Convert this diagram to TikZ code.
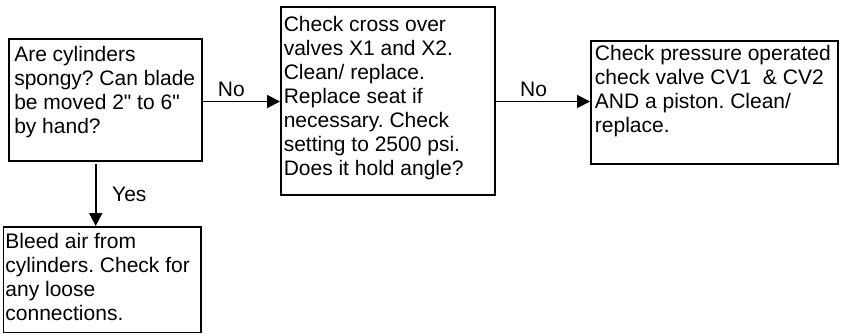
\documentclass[tikz,border=0pt]{standalone}
\usepackage{fontspec}
\setmainfont{Liberation Sans}
\usetikzlibrary{arrows.meta}
\newcommand\diagfs{\fontsize{21}{24}\selectfont}
\newcommand\boxtext[3]{\parbox[t]{#1}{\raggedright\leftskip=#2\relax #3}}
\newcommand\dq{\textquotedbl}
\frenchspacing
\tikzset{
  flowbox/.style={draw, line width=1.9pt, inner sep=0pt, anchor=north west, font=\diagfs},
  lbl/.style={inner sep=0pt, anchor=base west, font=\diagfs},
  arr/.style={line width=1.9pt, -{Triangle[length=13pt,width=13pt]}}
}
\begin{document}
\begin{tikzpicture}[x=1pt,y=-1pt]
\useasboundingbox[fill=white] (0,0) rectangle (841,333);
\node[flowbox, text height=22.7pt, text depth=99.3pt] (a) at (8.3,38)
  {\boxtext{192.7pt}{5pt}{Are cylinders\\spongy? Can blade\\be moved 2\dq{} to 6\dq\\by hand?}};
\node[flowbox, text height=24.7pt, text depth=163.3pt] (b) at (280,6)
  {\boxtext{214pt}{2.8pt}{Check cross over\\valves X1 and X2.\\Clean/ replace.\\Replace seat if\\necessary. Check\\setting to 2500 psi.\\Does it hold angle?}};
\node[flowbox, text height=20pt, text depth=103.3pt] (c) at (590,40)
  {\boxtext{247pt}{4pt}{Check pressure operated\\check valve CV1\ \ \& CV2\\AND a piston. Clean/\\replace.}};
\node[flowbox, text height=22pt, text depth=83.5pt] (d) at (2.5,226)
  {\boxtext{197.5pt}{2pt}{Bleed air from\\cylinders. Check for\\any loose\\connections.}};
\coordinate (hline) at (0,101.5);
\coordinate (ys) at (95.7,164);
\draw[arr] (a.east |- hline) -- (b.west |- hline);
\draw[arr] (b.east |- hline) -- (c.west |- hline);
\draw[arr] (ys) -- (ys |- d.north);
\node[lbl] (no1) at (217.7,96.7) {No};
\node[lbl] (no2) at (520,96.7) {No};
\node[lbl] (yes) at (112,201.7) {Yes};
\end{tikzpicture}
\end{document}
